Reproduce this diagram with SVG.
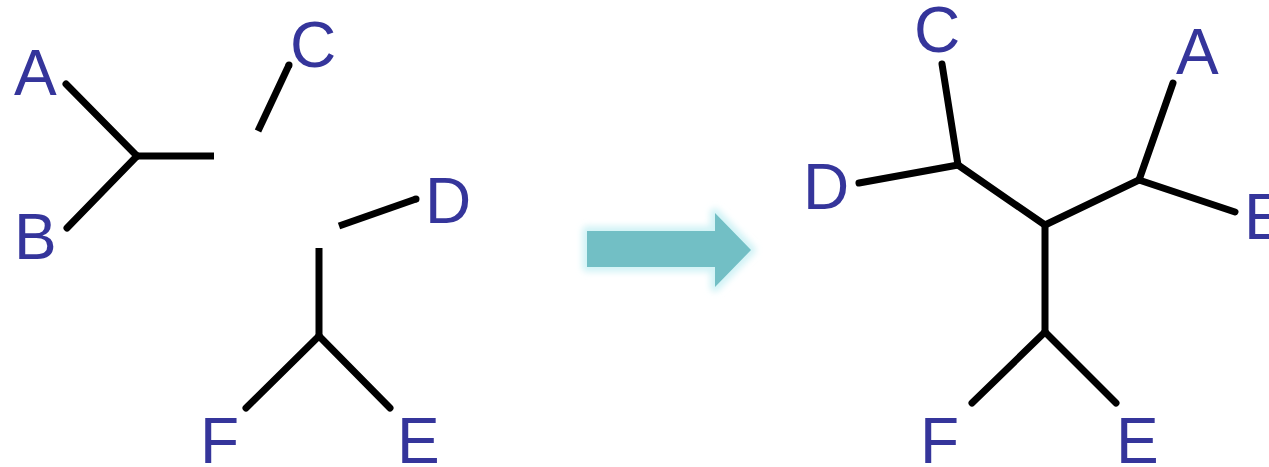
<svg xmlns="http://www.w3.org/2000/svg" width="1269" height="467" viewBox="0 0 1269 467">
<defs>
<style>
.b{stroke:#000;stroke-width:7;stroke-linecap:round;fill:none}
.bb{stroke:#000;stroke-width:7;stroke-linecap:butt;fill:none}
.t{font-family:"Liberation Sans",Arial,sans-serif;font-size:64px;fill:#35359b}
</style>
<filter id="glow" x="-20%" y="-20%" width="140%" height="140%">
<feGaussianBlur stdDeviation="3"/>
</filter>
</defs>
<rect width="1269" height="467" fill="#fff"/>
<g id="connectors">
<line class="b" x1="66" y1="84" x2="137" y2="156"/>
<line class="b" x1="137" y1="156" x2="67" y2="228"/>
<line class="bb" x1="137" y1="156" x2="214" y2="156"/>
<line class="bb" x1="258" y1="131" x2="289" y2="65"/>
<line class="b" x1="289" y1="65" x2="289" y2="65"/>
<line class="bb" x1="339" y1="226" x2="416" y2="199"/>
<line class="b" x1="416" y1="199" x2="416" y2="199"/>
<line class="bb" x1="319" y1="248" x2="319" y2="336"/>
<line class="b" x1="319" y1="336" x2="246" y2="408"/>
<line class="b" x1="319" y1="336" x2="390" y2="408"/>
<line class="b" x1="942" y1="64" x2="958" y2="165"/>
<line class="b" x1="859" y1="183" x2="958" y2="165"/>
<line class="b" x1="958" y1="165" x2="1045" y2="225"/>
<line class="b" x1="1045" y1="225" x2="1139" y2="180"/>
<line class="b" x1="1139" y1="180" x2="1173" y2="83"/>
<line class="b" x1="1139" y1="180" x2="1235" y2="212"/>
<line class="b" x1="1045" y1="225" x2="1045" y2="332"/>
<line class="b" x1="1045" y1="332" x2="972" y2="403"/>
<line class="b" x1="1045" y1="332" x2="1116" y2="403"/>
</g>
<g id="arrow">
<polygon points="587,231 715,231 715,213 751,250 715,287 715,267 587,267" fill="#d2f3f6" stroke="#d2f3f6" stroke-width="10" stroke-linejoin="round" filter="url(#glow)"/>
<polygon points="587,231 715,231 715,213 751,250 715,287 715,267 587,267" fill="#72bfc5"/>
</g>
<g id="left-A"><text class="t" x="14" y="95">A</text></g>
<g id="left-B"><text class="t" x="14" y="259">B</text></g>
<g id="left-C"><text class="t" x="290" y="67">C</text></g>
<g id="left-D"><text class="t" x="425" y="223">D</text></g>
<g id="left-F"><text class="t" x="200" y="463">F</text></g>
<g id="left-E"><text class="t" x="397" y="463">E</text></g>
<g id="right-C"><text class="t" x="914" y="52">C</text></g>
<g id="right-A"><text class="t" x="1176" y="74">A</text></g>
<g id="right-D"><text class="t" x="803" y="209">D</text></g>
<g id="right-E"><text class="t" x="1244" y="239">E</text></g>
<g id="right-F"><text class="t" x="920" y="463">F</text></g>
<g id="right-E2"><text class="t" x="1116" y="463">E</text></g>
</svg>
